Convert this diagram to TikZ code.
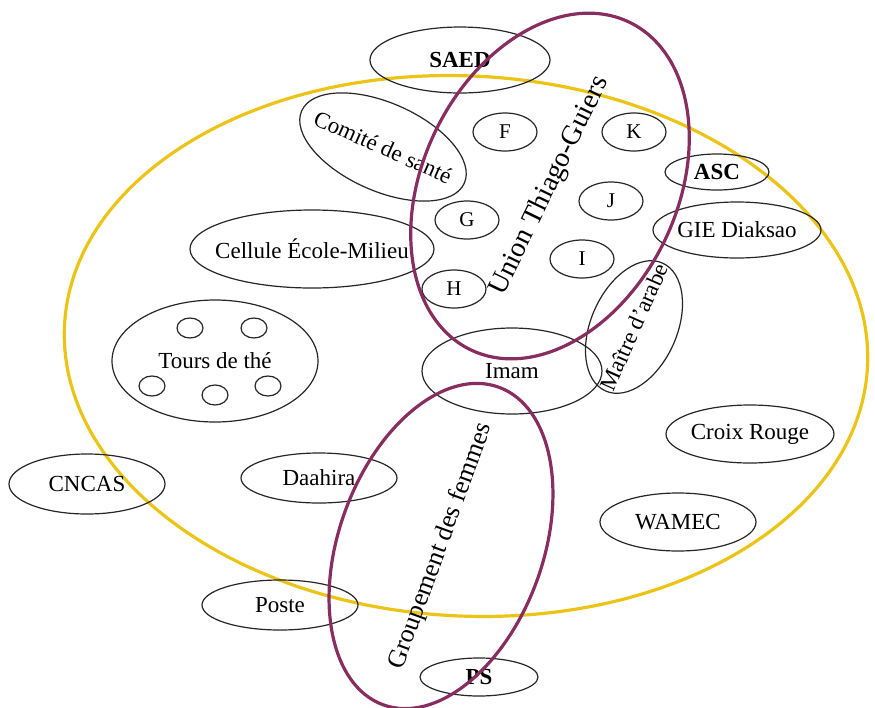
\documentclass[tikz,border=0pt]{standalone}
\usepackage{fontspec}
\setmainfont{Liberation Serif}
\usetikzlibrary{shapes.geometric}
\usepackage{xcolor}

\definecolor{ringgold}{RGB}{236,196,24}
\definecolor{ringplum}{RGB}{135,45,95}
\newcommand{\tx}[1]{\makebox[0pt]{#1}}

\tikzset{
  org/.style={ellipse, draw=black!85, line width=0.6pt, inner sep=0pt},
  letter/.style={org, minimum width=32pt, minimum height=19pt, font=\fontsize{10.5}{12}\selectfont},
  teacup/.style={ellipse, draw=black!85, line width=0.6pt, inner sep=0pt, minimum width=13pt, minimum height=10pt},
  commune/.style={ellipse, draw=ringgold, line width=1.6pt, inner sep=0pt},
  group/.style={ellipse, draw=ringplum, line width=1.6pt, inner sep=0pt}
}

\begin{document}
\begin{tikzpicture}[x=0.5pt, y=-0.5pt, font=\fontsize{11.5}{13}\selectfont]
  \useasboundingbox (0,0) rectangle (875,708);

  \node[commune, minimum width=402pt, minimum height=270pt, rotate=-3] (village) at (466,346) {};

  \node[org, minimum width=90pt, minimum height=33pt] (SAED) at (460,60) {\tx{\textbf{SAED}}};
  \node[org, minimum width=89pt, minimum height=44pt, rotate=-24] (sante) at (383,147) {\tx{Comité de santé}};
  \node[org, minimum width=52pt, minimum height=18pt] (ASC) at (717,172) {\tx{\textbf{ASC}}};
  \node[org, minimum width=84pt, minimum height=28pt] (GIE) at (737,230) {\tx{GIE Diaksao}};
  \node[org, minimum width=122pt, minimum height=39pt] (cellule) at (312,249) {\tx{Cellule École-Milieu}};
  \node[org, minimum width=70pt, minimum height=43pt, rotate=66, font=\fontsize{11.5}{13}\selectfont] (maitre) at (634,327) {\tx{Maître d'arabe}};
  \node[org, minimum width=90pt, minimum height=43pt] (imam) at (512,371) {\tx{Imam}};
  \node[org, minimum width=103pt, minimum height=61pt] (tours) at (215,361) {\tx{Tours de thé}};
  \node[org, minimum width=84pt, minimum height=29pt] (croix) at (750,434) {\tx{Croix Rouge}};
  \node[org, minimum width=78pt, minimum height=29pt] (WAMEC) at (678,522) {\tx{WAMEC}};
  \node[org, minimum width=78pt, minimum height=30pt] (CNCAS) at (87,484) {\tx{CNCAS}};
  \node[org, minimum width=78pt, minimum height=25pt] (daahira) at (319,478) {\tx{Daahira}};
  \node[org, minimum width=78pt, minimum height=25pt] (poste) at (280,605) {\tx{Poste}};
  \node[org, minimum width=59pt, minimum height=19pt] (PS) at (479,677) {\tx{\textbf{PS}}};

  \node[letter] (F) at (505,132) {F};
  \node[letter] (K) at (634,132) {K};
  \node[letter] (J) at (611,201) {J};
  \node[letter] (G) at (467,220) {G};
  \node[letter] (I) at (582,259) {I};
  \node[letter] (H) at (454,289) {H};

  \foreach \i/\x/\y in {1/190/328, 2/254/328, 3/152/386, 4/215/395, 5/268/386}
    \node[teacup] (cup\i) at (\x,\y) {};

  \node[group, minimum width=182pt, minimum height=127pt, rotate=64, font=\fontsize{14}{16}\selectfont] (union) at (550,186) {\tx{Union Thiago-Guiers}};
  \node[group, minimum width=169pt, minimum height=102pt, rotate=70, font=\fontsize{13}{15}\selectfont] (femmes) at (441,546) {\tx{Groupement des femmes}};
\end{tikzpicture}
\end{document}
